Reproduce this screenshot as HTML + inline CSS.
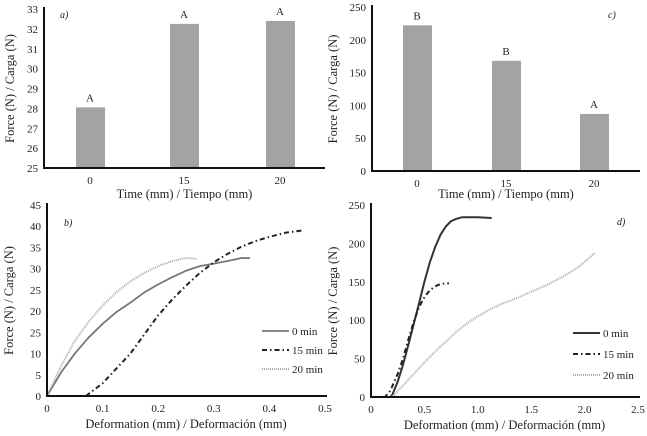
<!DOCTYPE html>
<html><head><meta charset="utf-8"><style>
body{margin:0;background:#fff}
svg{display:block;font-family:"Liberation Serif","DejaVu Serif",serif}
</style></head><body>
<svg id="s" width="647" height="436" viewBox="0 0 647 436"></svg>
<script>
const aCats=["0","15","20"], aVals=[28.05,32.25,32.4], aLetters=["A","A","A"], aTicks=[25,26,27,28,29,30,31,32,33];
const cCats=["0","15","20"], cVals=[222,168,87], cLetters=["B","B","A"], cTicks=[0,50,100,150,200,250];
const bTicks=[0,5,10,15,20,25,30,35,40,45], bTickLabels=["0","5","10","25","20","25","30","35","40","45"], bXTicks=["0","0.1","0.2","0.3","0.4","0.5"], bXVals=[0,0.1,0.2,0.3,0.4,0.5];
const b0x=[0,0.025,0.05,0.075,0.1,0.125,0.15,0.175,0.2,0.225,0.25,0.275,0.3,0.325,0.35,0.365], b0y=[0,5.5,10,13.8,17,19.8,22,24.4,26.3,28,29.5,30.6,31.2,31.8,32.5,32.5];
const b15x=[0.07,0.1,0.125,0.15,0.175,0.2,0.225,0.25,0.275,0.3,0.325,0.35,0.375,0.4,0.43,0.46], b15y=[0,3,6.5,10,14.5,19,22.7,26,29,31.5,33.5,35.2,36.5,37.5,38.5,39];
const b20x=[0,0.025,0.05,0.075,0.1,0.125,0.15,0.175,0.2,0.225,0.25,0.27], b20y=[0,7,13,17.5,21.3,24.5,27,29,30.6,31.8,32.5,32.3];
const dTicks=[0,50,100,150,200,250], dXVals=[0,0.5,1,1.5,2,2.5], dXTicks=["0","0.5","1.0","1.5","2.0","2.5"];
const d0x=[0,0.18,0.2,0.25,0.3,0.35,0.4,0.45,0.5,0.55,0.6,0.65,0.7,0.75,0.8,0.85,0.9,1.0,1.13], d0y=[0,0,3,20,42,68,95,122,150,175,195,211,222,229,232,234,234,234,233];
const d15x=[0,0.13,0.18,0.25,0.3,0.35,0.4,0.45,0.5,0.55,0.6,0.65,0.7,0.73], d15y=[0,0,8,30,50,75,98,117,130,139,144,147,148,148];
const d20x=[0.18,0.22,0.3,0.4,0.5,0.6,0.7,0.8,0.9,1.0,1.1,1.2,1.35,1.5,1.65,1.8,1.95,2.1], d20y=[0,3,15,30,45,59,72,85,96,105,113,120,128,137,146,157,170,188];

const S=document.getElementById('s');const NS='http://www.w3.org/2000/svg';
function el(t,a,txt){const e=document.createElementNS(NS,t);for(const k in a)e.setAttribute(k,a[k]);if(txt!==undefined)e.textContent=txt;S.appendChild(e);return e;}
function txt(x,y,s,anchor,size,name,extra){const e=el('text',Object.assign({x:x,y:y,'text-anchor':anchor,'font-size':size,fill:'#222'},extra||{}),s);

return e;}
function axes(x0,y0,x1,yTop,name){const l=el('path',{d:`M${x0} ${yTop}V${y0}H${x1}`,stroke:'#111','stroke-width':2,fill:'none'});

}
function bars(cats,vals,letters,ticks,ymin,ymax,ax,yBottom,yTop,xEnd,centers,ylab,xlabY,lab,labX,name){
 const y=v=>yBottom-(v-ymin)/(ymax-ymin)*(yBottom-yTop);
 ticks.forEach(t=>txt(ax-6,y(t)+4,String(t),'end',11,name+'-y-tick'));
 vals.forEach((v,i)=>{const r=el('rect',{x:centers[i]-14,y:y(v),width:29,height:yBottom-y(v),fill:'#a2a4a4'});
  
  
  txt(centers[i],y(v)-6,letters[i],'middle',11,name+'-letter');
  txt(centers[i],yBottom+16,cats[i],'middle',11,name+'-x-tick');});
 axes(ax,yBottom,xEnd,yTop-2,name+'-axes');
 txt((ax+xEnd)/2,xlabY,'Time (mm) / Tiempo (mm)','middle',12.5,name+'-x-title');
 txt(0,0,'Force (N) / Carga (N)','middle',12.5,name+'-y-title',{transform:`translate(${ylab},${(yBottom+yTop)/2}) rotate(-90)`});
 txt(labX,18,lab,'start',10,name+'-panel-label',{'font-style':'italic'});
}
bars(aCats,aVals,aLetters,aTicks,25,33,44,168,9,325,[90,184,280],14,198,'a)',60,'a');
bars(cCats,cVals,cLetters,cTicks,0,250,372,171,7,640,[417,506,594],337,198,'c)',608,'c');

function lines(series,styles,labels,xs,ys,xmin,xmax,px0,px1,ymax,py0,py1,yT,yTL,xT,xTL,leg,lab,labXY,name){
 const X=v=>px0+(v-xmin)/(xmax-xmin)*(px1-px0), Y=v=>py0-v/ymax*(py0-py1);
 yT.forEach((t,i)=>txt(px0-6,Y(t)+4,yTL[i],'end',11,name+'-y-tick'));
 xT.forEach((t,i)=>txt(X(t),py0+16,xTL[i],'middle',11,name+'-x-tick'));
 series.forEach((s,i)=>{const p=el('polyline',Object.assign({points:xs[i].map((x,j)=>X(x)+','+Y(ys[i][j])).join(' '),fill:'none','stroke-linejoin':'round'},styles[i]));
  
  
  const ly=leg[1]+i*leg[2];const l=el('line',Object.assign({x1:leg[0],x2:leg[0]+27,y1:ly,y2:ly},styles[i]));
  
  
  txt(leg[0]+30,ly+4,labels[i],'start',11,name+'-legend-entry');});
 axes(px0,py0,px1+2,py1-2,name+'-axes');
 txt((px0+px1)/2,py0+32,'Deformation (mm) / Deformación (mm)','middle',12.5,name+'-x-title');
 txt(0,0,'Force (N) / Carga (N)','middle',12.5,name+'-y-title',{transform:`translate(${px0-34},${(py0+py1)/2}) rotate(-90)`});
 txt(labXY[0],labXY[1],lab,'start',10,name+'-panel-label',{'font-style':'italic'});
}
const st=[{stroke:'#777','stroke-width':1.8},{stroke:'#222','stroke-width':2,'stroke-dasharray':'5,3,1.5,3'},{stroke:'#aaa','stroke-width':2,'stroke-dasharray':'1,1'}];
const labs=['0 min','15 min','20 min'];
lines(labs,st,labs,[b0x,b15x,b20x],[b0y,b15y,b20y],0,0.5,47,325,45,396,205,bTicks,bTickLabels,bXVals,bXTicks,[262,331,19],'b)',[64,226],'b');
lines(labs,[{stroke:'#333','stroke-width':2},st[1],st[2]],labs,[d0x,d15x,d20x],[d0y,d15y,d20y],0,2.5,371,638,250,397,205,dTicks,dTicks.map(String),dXVals,dXTicks,[573,333,21],'d)',[617,225],'d');
</script>
</body></html>
